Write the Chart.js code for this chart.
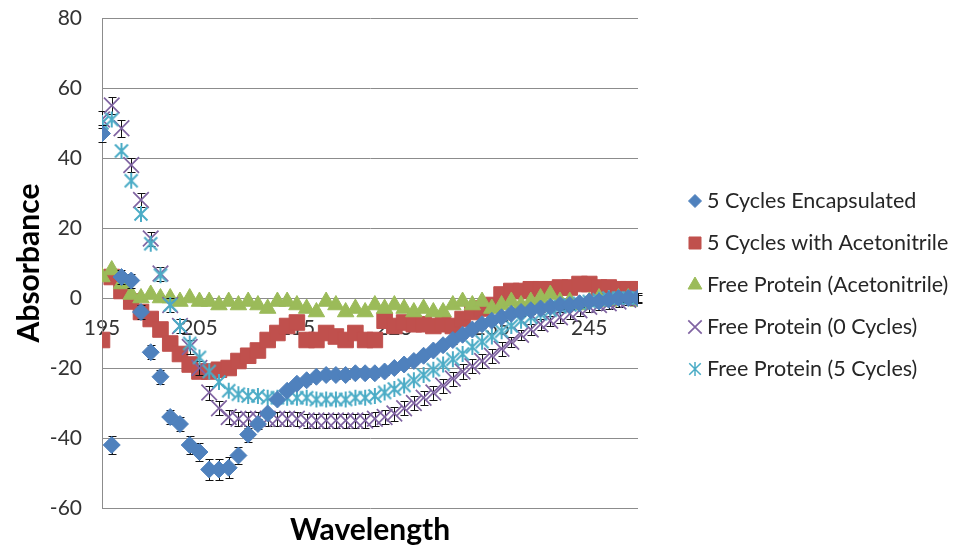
<!DOCTYPE html>
<html>
<head>
<meta charset="utf-8">
<script src="https://cdn.jsdelivr.net/npm/chart.js@4.4.1/dist/chart.umd.min.js"></script>
<style>
  html, body { margin: 0; padding: 0; background: #ffffff; }
  canvas { display: block; }
</style>
</head>
<body>
<canvas id="cd" width="956" height="550"></canvas>
<script>
// Wavelength (nm)
const wavelength = [195,196,197,198,199,200,201,202,203,204,205,206,207,208,209,210,211,212,213,214,215,216,217,218,219,220,221,222,223,224,225,226,227,228,229,230,231,232,233,234,235,236,237,238,239,240,241,242,243,244,245,246,247,248,249,250];

// Series values
const encapsulated5 = [47,-42,6,5,-4,-15.5,-22.5,-34,-36,-42,-44,-49,-49,-48.5,-45,-39,-36,-33,-29,-26.5,-24.5,-23.5,-22.5,-22,-22,-22,-21.5,-21.5,-21.5,-21,-20,-19,-18,-16.5,-15,-13.5,-12,-10.5,-9,-7.5,-6.5,-5.5,-4.5,-4,-3.5,-3,-2.5,-2,-2,-1.5,-1,-1,-0.5,0,0,0];
const acetonitrile5 = [-12,6,2,-1,-4,-6,-9,-13,-16,-19,-21,-21,-20.5,-20,-18,-16.5,-15,-12,-10,-8,-7,-12,-12,-10,-11,-12,-10,-12,-12,-6.5,-8,-7,-7.5,-7.5,-8,-7.5,-8,-6,-4,-3,-2,1,2,2,2.5,2.5,2.5,3,3,4,4,3,3,2.5,2.5,2.5];
const freeAcetonitrile = [6,8,4,1,0,1,0,0,-1,0,-1,-1,-2,-1,-2,-1,-2,-3,-1,-1,-2,-3,-4,-1,-2,-4,-3,-4,-2,-3,-2,-3,-4,-3,-4,-4,-2,-1,-2,-1,-3,-2,-1,-2,-1,0,1,-1,-1,-2,-1,0,-1,0,0,-1];
const free0Cycles = [51,55,48.5,38,28,17,7,-2,-8,-14,-20,-27,-31.5,-34,-34.5,-34.5,-34.5,-34.5,-34.5,-34.5,-34.5,-35,-35,-35,-35,-35,-35,-35,-34.5,-34,-33,-31.5,-30,-28.5,-27,-25,-23,-21,-19.5,-18,-16.5,-14.5,-12.5,-10.5,-9,-7.5,-6.5,-5.5,-4.5,-3.5,-2.5,-2,-1.5,-1,-0.5,0];
const free5Cycles = [50,51,42,33.5,24,15.5,6.5,-2,-8,-13,-17,-21,-24,-26.5,-27.5,-28,-28,-28.5,-28.5,-28.5,-28.5,-28.5,-29,-29,-29,-29,-28.5,-28.5,-28,-27,-26,-25,-23.5,-22,-20.5,-19,-17.5,-16,-14,-12.5,-11,-9.5,-8,-6.5,-5.5,-4.5,-3.5,-2.5,-2,-1.5,-1,-0.5,0,0,0,0];

// Error bar half-widths
const encapsulated5Err = [2.5,2.5,2,2,2,2,2,2,2,2.5,2.5,3,3,3,2.5,2,1.5,1,1,1,1,1,1,1,1,1,1,1,1,1,1,1,1,1,1,1,1,1,1,1,1,1,1,1,1,1,1,1,1,1,1,1,1,1,1,1];
const free0CyclesErr = [2.5,2.5,2.5,2,2,2,2,2,2,2,2,2,2,2,2,2,2,2,2,2,2,2,2,2,2,2,2,2,2,2,2,2,2,2,2,2,2,2,2,2,2,2,1.5,1.5,1.5,1.5,1.5,1.5,1.5,1.5,1.5,1.5,1.5,1.5,1.5,1.5];

// Axis tick labels
const xTickValues = [195, 205, 215, 225, 235, 245];
const seriesLabels = ['5 Cycles Encapsulated', '5 Cycles with Acetonitrile', 'Free Protein (Acetonitrile)', 'Free Protein (0 Cycles)', 'Free Protein (5 Cycles)'];

const pts = arr => arr.map((v, i) => ({ x: wavelength[i], y: v }));

// Six-armed star marker (X with a vertical stroke)
function starMarker(size, color, lw) {
  const c = document.createElement('canvas');
  c.width = size; c.height = size;
  const g = c.getContext('2d');
  g.strokeStyle = color; g.lineWidth = lw;
  const m = size / 2, d = size * 0.36;
  g.beginPath();
  g.moveTo(m - d, m - d); g.lineTo(m + d, m + d);
  g.moveTo(m + d, m - d); g.lineTo(m - d, m + d);
  g.moveTo(m, 1); g.lineTo(m, size - 1);
  g.stroke();
  return c;
}

const FONT = 'Lato, "Open Sans", sans-serif';

const datasets = [
  { label: seriesLabels[0], data: pts(encapsulated5), errors: encapsulated5Err,
    pointStyle: 'rectRot', pointRadius: 8.5, backgroundColor: '#4F81BD', borderColor: '#4F81BD', borderWidth: 1, legendRadius: 6.5, order: 0 },
  { label: seriesLabels[1], data: pts(acetonitrile5),
    pointStyle: 'rect', pointRadius: 11, backgroundColor: '#C0504D', borderColor: '#C0504D', borderWidth: 1, legendRadius: 8.5, order: 4 },
  { label: seriesLabels[2], data: pts(freeAcetonitrile),
    pointStyle: 'triangle', pointRadius: 9.5, backgroundColor: '#9BBB59', borderColor: '#9BBB59', borderWidth: 1, legendRadius: 8, order: 3 },
  { label: seriesLabels[3], data: pts(free0Cycles), errors: free0CyclesErr,
    pointStyle: 'crossRot', pointRadius: 11, backgroundColor: '#8064A2', borderColor: '#8064A2', borderWidth: 1.7, legendRadius: 9.5, order: 2 },
  { label: seriesLabels[4], data: pts(free5Cycles),
    pointStyle: starMarker(18, '#4BACC6', 2), pointRadius: 9, backgroundColor: '#4BACC6', borderColor: '#4BACC6', borderWidth: 1.7, legendRadius: 8,
    legendStyle: starMarker(16, '#4BACC6', 1.5), order: 1 }
];

// Black error bars with caps, drawn beneath each series' markers
const errorBars = {
  id: 'errorBars',
  beforeDatasetDraw(chart, args) {
    const ds = chart.data.datasets[args.index];
    if (!ds.errors) return;
    const ctx = chart.ctx, ys = chart.scales.y;
    ctx.save();
    ctx.strokeStyle = '#111';
    ctx.lineWidth = 1;
    args.meta.data.forEach((pt, j) => {
      const v = ds.data[j].y, e = ds.errors[j];
      const y1 = Math.round(ys.getPixelForValue(v + e)) + 0.5;
      const y2 = Math.round(ys.getPixelForValue(v - e)) + 0.5;
      const x = Math.round(pt.x) + 0.5;
      ctx.beginPath();
      ctx.moveTo(x, y1); ctx.lineTo(x, y2);
      ctx.moveTo(x - 4, y1); ctx.lineTo(x + 4, y1);
      ctx.moveTo(x - 4, y2); ctx.lineTo(x + 4, y2);
      ctx.stroke();
    });
    ctx.restore();
  }
};

// Legend on the right and the x-axis title under the plot
const sideText = {
  id: 'sideText',
  afterDraw(chart) {
    const ctx = chart.ctx, area = chart.chartArea;
    ctx.save();
    chart.data.datasets.forEach((ds, i) => {
      const yy = 201 + i * 42;
      ctx.fillStyle = ds.backgroundColor;
      ctx.strokeStyle = ds.borderColor;
      ctx.lineWidth = ds.borderWidth;
      const style = ds.legendStyle || ds.pointStyle;
      Chart.helpers.drawPoint(ctx, { pointStyle: style, radius: ds.legendRadius, rotation: 0, borderWidth: ds.borderWidth }, 695, yy);
      ctx.fillStyle = '#262626';
      ctx.font = '21.5px ' + FONT;
      ctx.textAlign = 'left';
      ctx.textBaseline = 'middle';
      ctx.fillText(ds.label, 707, yy);
    });
    ctx.fillStyle = '#000';
    ctx.font = 'bold 30px ' + FONT;
    ctx.textAlign = 'center';
    ctx.textBaseline = 'middle';
    ctx.fillText('Wavelength', (area.left + area.right) / 2, 530);
    ctx.restore();
  }
};

new Chart(document.getElementById('cd'), {
  type: 'scatter',
  data: { datasets },
  plugins: [errorBars, sideText],
  options: {
    responsive: false,
    devicePixelRatio: 1,
    animation: false,
    layout: { padding: { left: 0, right: 318, top: 18, bottom: 42 } },
    plugins: { legend: { display: false }, tooltip: { enabled: false } },
    scales: {
      x: {
        type: 'linear',
        position: { y: 0 },
        min: 195, max: 250,
        afterBuildTicks: axis => { axis.ticks = xTickValues.map(v => ({ value: v })); },
        grid: { display: false, drawTicks: false },
        border: { display: false },
        ticks: { padding: 18, color: '#333', font: { family: FONT, size: 21 }, maxRotation: 0, autoSkip: false }
      },
      y: {
        min: -60, max: 80,
        afterFit: scale => { scale.width = 102; scale.paddingTop = 0; scale.paddingBottom = 0; },
        ticks: { stepSize: 20, padding: 20, color: '#333', font: { family: FONT, size: 21 } },
        grid: { color: '#8c8c8c', lineWidth: 1, drawTicks: false },
        border: { display: true, color: '#8c8c8c', width: 1 },
        title: { display: true, text: 'Absorbance', color: '#000', font: { family: FONT, size: 30, weight: 'bold' }, padding: { top: 11, bottom: 0 } }
      }
    }
  }
});
</script>
</body>
</html>
